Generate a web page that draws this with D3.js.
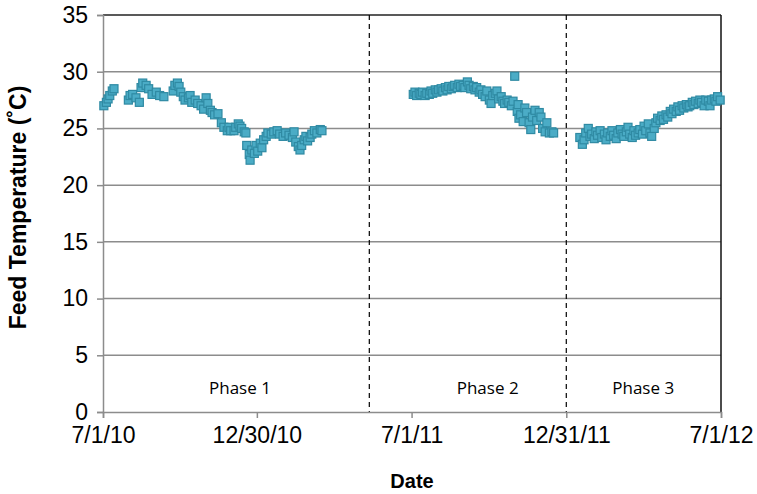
<!DOCTYPE html>
<html>
<head>
<meta charset="utf-8">
<script src="https://cdn.jsdelivr.net/npm/d3@7"></script>
<style>
  html, body { margin: 0; padding: 0; background: #fff; }
  svg { display: block; }
</style>
</head>
<body>
<svg id="chart" width="757" height="494"></svg>
<script>
// Days counted from 1 July 2010, and the feed temperature (°C) measured on each.
const phase1Days = [1, 4, 6, 8, 11, 13, 30, 32, 35, 39, 43, 45, 47, 51, 54, 58, 63, 67, 72,
  83, 85, 88, 90, 92, 95, 97, 101, 103, 105, 109, 112, 116, 119, 122, 124, 127, 129, 132, 136,
  140, 143, 147, 149, 151, 155, 157, 160, 162, 164, 167, 169,
  170, 173, 174, 176, 179, 181, 183, 186, 188, 190, 193, 195,
  199, 202, 206, 209, 213, 216, 220, 224, 226, 228, 231, 233, 235, 238, 240, 242, 245, 247, 250, 253, 257, 259];
const phase1Temps = [27.0, 27.3, 27.6, 27.9, 28.3, 28.5, 27.5, 27.9, 28.0, 27.7, 27.3, 28.6, 29.0, 28.8, 28.5, 28.0, 28.2, 27.9, 27.8,
  28.3, 28.8, 29.0, 28.7, 28.2, 27.8, 27.5, 27.7, 27.9, 27.3, 27.5, 27.2, 27.0, 26.7, 27.7, 27.2, 26.6, 26.4, 26.2, 26.3,
  25.5, 25.1, 24.8, 25.1, 24.8, 24.8, 25.1, 25.4, 25.2, 25.0, 24.7, 24.6,
  23.5, 22.7, 22.2, 23.1, 22.8, 23.5, 23.0, 23.7, 23.3, 24.0, 24.3, 24.6,
  24.5, 24.7, 24.8, 24.5, 24.3, 24.6, 24.4, 24.2, 24.7, 23.8, 23.4, 23.1, 23.5, 24.0, 24.3, 23.9, 24.2, 24.5, 24.8, 24.6, 24.9, 24.8];

const phase2Days = [367, 369, 371, 374, 376, 378, 381, 383, 386, 388,
  390, 393, 395, 397, 400, 402, 405, 407, 409, 412,
  414, 416, 419, 421, 423, 426, 428, 431, 433, 435,
  438, 440, 442, 445, 447, 449, 452, 454, 457, 459,
  461, 464, 466, 468, 471, 473, 475, 478, 480, 483,
  485, 487, 490, 491, 492, 494, 497, 499, 501, 504, 506, 508, 511, 513, 516, 518, 520, 523, 525, 528, 531, 533];
const phase2Temps = [28.0, 28.2, 27.9, 28.1, 28.0, 28.2, 27.9, 28.1, 28.0, 28.3,
  28.1, 28.4, 28.2, 28.4, 28.5, 28.3, 28.6, 28.4, 28.7, 28.5,
  28.7, 28.8, 28.6, 28.9, 28.7, 28.8, 28.6, 29.1, 28.8, 28.5,
  28.7, 28.4, 28.6, 28.2, 28.4, 28.0, 27.8, 28.3, 27.5, 27.2,
  27.9, 28.1, 28.3, 27.6, 27.8, 27.4, 27.2, 27.5, 27.3, 27.0,
  27.4, 29.6, 26.5, 27.1, 25.9, 26.2, 25.6, 26.8, 26.4, 25.5, 24.9, 26.0, 26.6, 25.7, 26.4, 26.0, 25.0, 24.7, 25.5, 24.6, 24.7, 24.6];

const phase3Days = [564, 567, 569, 571, 574, 576, 578, 581, 583, 585,
  588, 590, 593, 595, 597, 600, 602, 604, 607, 609,
  612, 614, 616, 619, 621, 623, 626, 628, 630, 633,
  635, 638, 640, 642, 645, 647, 649, 652, 654, 656,
  659, 661, 663, 666, 668, 671, 673, 675, 678, 680,
  682, 685, 687, 690, 692, 694, 697, 699, 701, 704,
  706, 708, 711, 713, 716, 718, 720, 723, 725, 727, 730];
const phase3Temps = [24.2, 23.6, 24.0, 24.6, 25.0, 24.3, 24.5, 24.1, 24.7, 24.4,
  24.8, 24.2, 24.5, 24.0, 24.6, 24.3, 24.8, 24.4, 24.1, 24.6,
  24.9, 24.5, 24.3, 24.7, 25.1, 24.5, 24.2, 24.8, 24.4, 24.6,
  24.9, 24.5, 25.2, 24.8, 25.4, 24.6, 24.3, 25.0, 25.5, 25.9,
  25.7, 26.1, 25.8, 26.2, 26.0, 26.5, 26.3, 26.7, 26.5, 26.9,
  26.6, 27.0, 26.8, 27.1, 26.9, 27.0, 27.3, 27.1, 27.4, 27.2,
  27.5, 27.3, 27.0, 27.5, 27.4, 27.0, 27.5, 27.6, 27.4, 27.8, 27.5];

const xTickLabels = ["7/1/10", "12/30/10", "7/1/11", "12/31/11", "7/1/12"];
const xTickDays = [0, 182, 365, 548, 731];
const yTicks = [0, 5, 10, 15, 20, 25, 30, 35];
const phaseNames = ["Phase 1", "Phase 2", "Phase 3"];
const phaseCentreDays = [162, 455, 639];
const phaseBreakDays = [315, 548];

const start = new Date(Date.UTC(2010, 6, 1));
const toDate = d => d3.utcDay.offset(start, d);

const margin = { left: 103, top: 15, right: 36, bottom: 82 };
const W = 757, H = 494;
const svg = d3.select("#chart");

const x = d3.scaleUtc()
  .domain([toDate(0), toDate(731)])
  .range([margin.left, W - margin.right]);
const y = d3.scaleLinear()
  .domain([0, 35])
  .range([H - margin.bottom, margin.top]);

const fontAxis = "'Liberation Sans', Arial, sans-serif";

// horizontal gridlines
svg.append("g")
  .selectAll("line")
  .data(yTicks.filter(v => v > 0 && v < 35))
  .join("line")
  .attr("x1", x.range()[0]).attr("x2", x.range()[1])
  .attr("y1", d => y(d)).attr("y2", d => y(d))
  .attr("stroke", "#8c8c8c").attr("stroke-width", 1.5);

// top and right frame
svg.append("line")
  .attr("x1", x.range()[0]).attr("x2", x.range()[1])
  .attr("y1", y(35)).attr("y2", y(35))
  .attr("stroke", "#222").attr("stroke-width", 1.5);
svg.append("line")
  .attr("x1", x.range()[1]).attr("x2", x.range()[1])
  .attr("y1", y(35)).attr("y2", y(0))
  .attr("stroke", "#111").attr("stroke-width", 1.5);

// phase boundaries
svg.append("g")
  .selectAll("line")
  .data(phaseBreakDays)
  .join("line")
  .attr("x1", d => x(toDate(d))).attr("x2", d => x(toDate(d)))
  .attr("y1", y(35)).attr("y2", y(0))
  .attr("stroke", "#000").attr("stroke-width", 1.2)
  .attr("stroke-dasharray", "5,4");

// y axis
const yAxis = d3.axisLeft(y).tickValues(yTicks).tickSize(6).tickPadding(9).tickFormat(d3.format("d"));
const gy = svg.append("g")
  .attr("transform", `translate(${margin.left},0)`)
  .call(yAxis);
gy.select(".domain").attr("stroke", "#8c8c8c").attr("stroke-width", 1.5);
gy.selectAll(".tick line").attr("stroke", "#8c8c8c").attr("stroke-width", 1.5);
gy.selectAll(".tick text")
  .attr("font-family", fontAxis).attr("font-size", 23).attr("fill", "#000");

// x axis
const xAxis = d3.axisBottom(x)
  .tickValues(xTickDays.map(toDate))
  .tickSize(6).tickPadding(9)
  .tickFormat((d, i) => xTickLabels[i]);
const gx = svg.append("g")
  .attr("transform", `translate(0,${y(0)})`)
  .call(xAxis);
gx.select(".domain").attr("stroke", "#8c8c8c").attr("stroke-width", 1.5);
gx.selectAll(".tick line").attr("stroke", "#8c8c8c").attr("stroke-width", 1.5);
gx.selectAll(".tick text")
  .attr("font-family", fontAxis).attr("font-size", 23).attr("fill", "#000");

// measurements
const points = [
  ...phase1Days.map((d, i) => [d, phase1Temps[i]]),
  ...phase2Days.map((d, i) => [d, phase2Temps[i]]),
  ...phase3Days.map((d, i) => [d, phase3Temps[i]])
];
const s = 8;
svg.append("g")
  .selectAll("rect")
  .data(points)
  .join("rect")
  .attr("x", d => x(toDate(d[0])) - s / 2)
  .attr("y", d => y(d[1]) - s / 2)
  .attr("width", s).attr("height", s)
  .attr("fill", "#4bacc6")
  .attr("stroke", "#2f8aa3")
  .attr("stroke-width", 1.2);

// phase labels
svg.append("g")
  .selectAll("text")
  .data(phaseNames)
  .join("text")
  .attr("x", (d, i) => x(toDate(phaseCentreDays[i])))
  .attr("y", 394)
  .attr("text-anchor", "middle")
  .attr("font-family", "'Open Sans', 'Noto Sans', sans-serif")
  .attr("font-size", 17)
  .attr("fill", "#000")
  .text(d => d);

// axis titles
svg.append("text")
  .attr("x", (x.range()[0] + x.range()[1]) / 2)
  .attr("y", 488)
  .attr("text-anchor", "middle")
  .attr("font-family", fontAxis)
  .attr("font-weight", "bold")
  .attr("font-size", 20)
  .text("Date");

svg.append("text")
  .attr("transform", `translate(26,${(y(0) + y(35)) / 2 - 6}) rotate(-90)`)
  .attr("text-anchor", "middle")
  .attr("font-family", fontAxis)
  .attr("font-weight", "bold")
  .attr("font-size", 23)
  .text("Feed Temperature (˚C)");
</script>
</body>
</html>
